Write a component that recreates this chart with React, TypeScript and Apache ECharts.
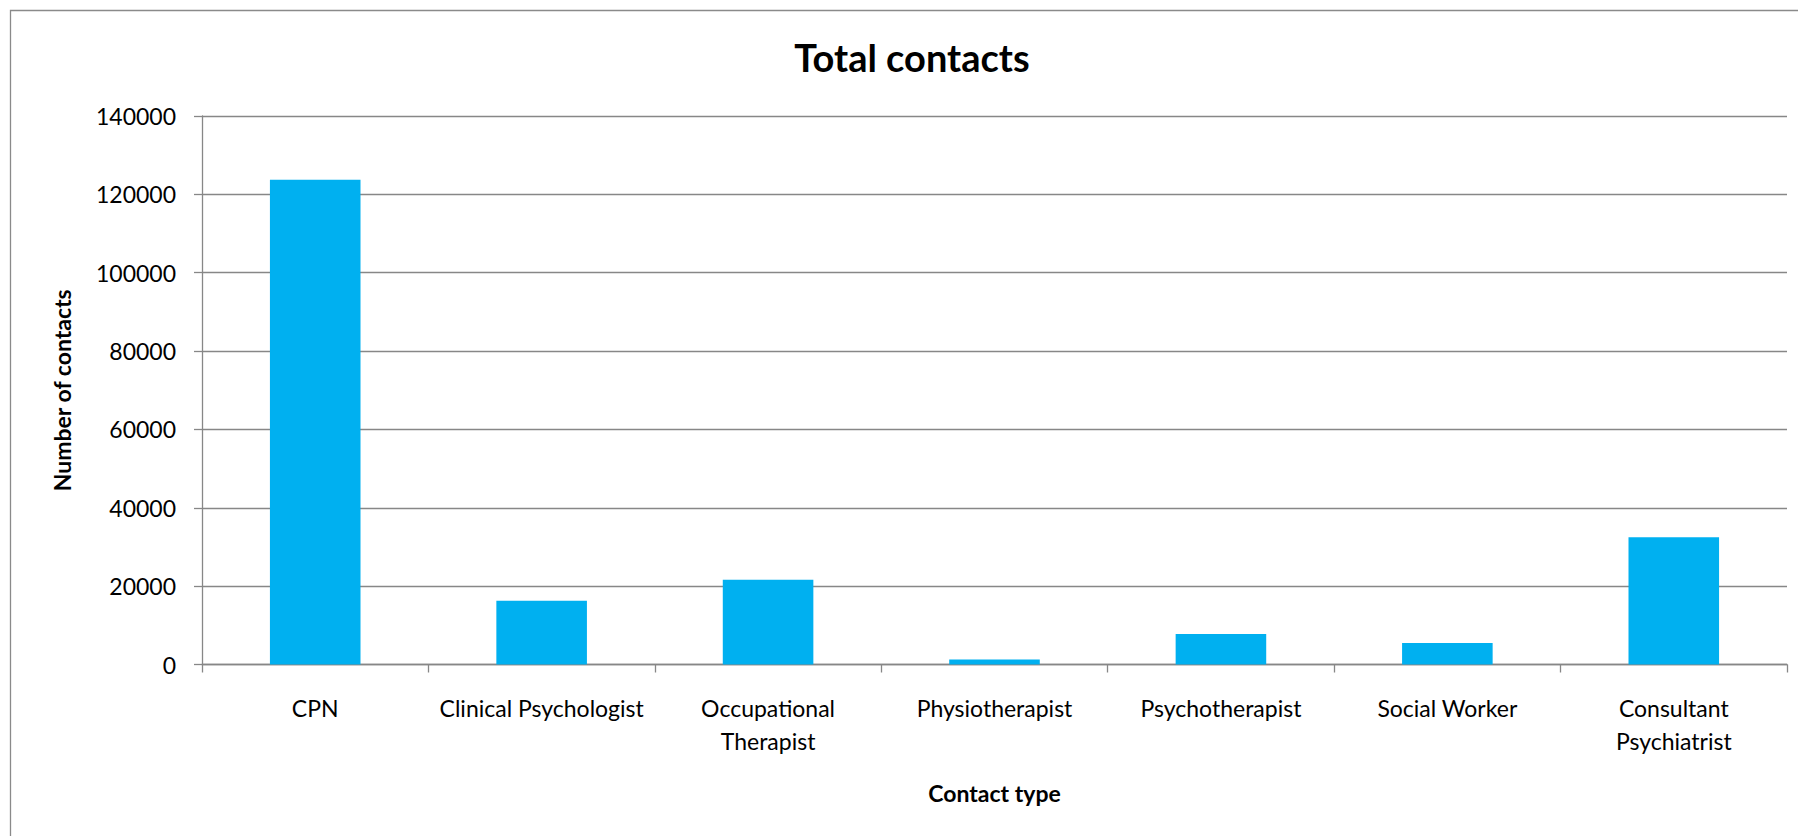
import React, { useEffect, useRef } from "react";
import * as echarts from "echarts";

const categories = [
  "CPN",
  "Clinical Psychologist",
  "Occupational\nTherapist",
  "Physiotherapist",
  "Psychotherapist",
  "Social Worker",
  "Consultant\nPsychiatrist",
];
const contacts = [123700, 16300, 21600, 1300, 7800, 5500, 32500];
const yTicks = { min: 0, max: 140000, interval: 20000 };
const titleText = "Total contacts";
const xName = "Contact type";
const yName = "Number of contacts";

const FONT = "Lato, 'Open Sans', sans-serif";
const GRAY = "#878787";

export default function App() {
  const ref = useRef<HTMLDivElement>(null);
  useEffect(() => {
    if (!ref.current) return;
    const chart = echarts.init(ref.current, null, { renderer: "svg" });
    chart.setOption({
      animation: false,
      backgroundColor: "#ffffff",
      textStyle: { fontFamily: FONT },
      graphic: [
        {
          type: "rect",
          shape: { x: 10.5, y: 10.5, width: 1900, height: 900 },
          style: { fill: "none", stroke: "#8a8a8a", lineWidth: 1.3 },
          silent: true,
        },
        {
          type: "text",
          x: 912,
          y: 57,
          style: {
            text: titleText,
            font: `bold 38px ${FONT}`,
            fill: "#000",
            textAlign: "center",
            textVerticalAlign: "middle",
          },
        },
      ],
      grid: { left: 202, right: 11, top: 116, bottom: 171.5, containLabel: false },
      xAxis: {
        type: "category",
        data: categories,
        name: xName,
        nameLocation: "middle",
        nameGap: 117,
        nameTextStyle: { fontFamily: FONT, fontWeight: "bold", fontSize: 23, color: "#000" },
        axisLine: { lineStyle: { color: GRAY, width: 1.3 } },
        axisTick: { show: true, length: 8, lineStyle: { color: GRAY, width: 1.3 } },
        axisLabel: {
          interval: 0,
          fontFamily: FONT,
          fontSize: 23,
          lineHeight: 33,
          color: "#000",
          margin: 27,
        },
      },
      yAxis: {
        type: "value",
        min: yTicks.min,
        max: yTicks.max,
        interval: yTicks.interval,
        name: yName,
        nameLocation: "middle",
        nameRotate: 90,
        nameGap: 129,
        nameTextStyle: { fontFamily: FONT, fontWeight: "bold", fontSize: 23, color: "#000" },
        axisLine: { show: true, lineStyle: { color: GRAY, width: 1.3 } },
        axisTick: { show: true, length: 8, lineStyle: { color: GRAY, width: 1.3 } },
        axisLabel: {
          fontFamily: FONT,
          fontSize: 23,
          color: "#000",
          margin: 26,
          formatter: (v: number) => String(v),
        },
        splitLine: { lineStyle: { color: GRAY, width: 1.3 } },
      },
      series: [
        {
          type: "bar",
          data: contacts,
          barCategoryGap: "60%",
          itemStyle: { color: "#00B0F0" },
        },
      ],
    });
    return () => chart.dispose();
  }, []);
  return (
    <div
      ref={ref}
      style={{ position: "fixed", left: 0, top: 0, width: 1798, height: 836, background: "#fff" }}
    />
  );
}
